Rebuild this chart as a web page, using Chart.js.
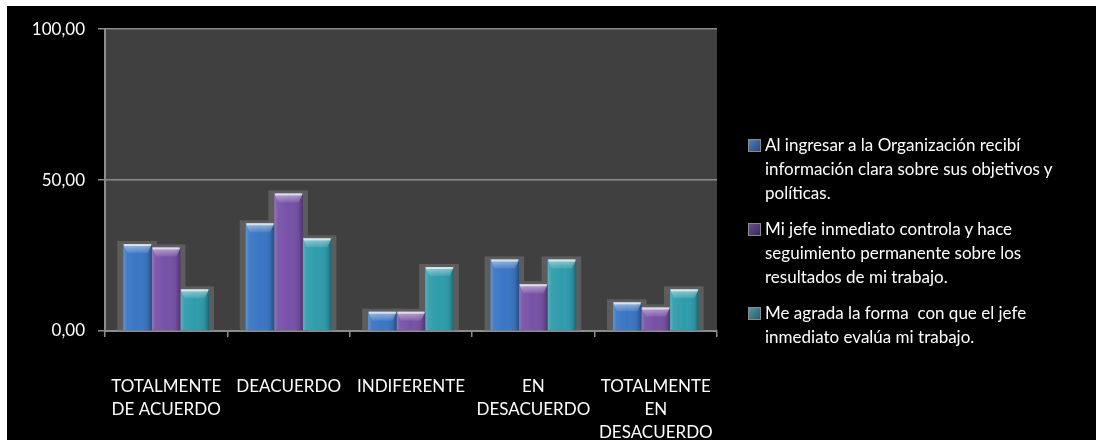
<!DOCTYPE html>
<html>
<head>
<meta charset="utf-8">
<script src="https://cdn.jsdelivr.net/npm/chart.js@4.4.0/dist/chart.umd.min.js"></script>
<style>
    body { margin: 0; background: #fff; }
    #wrap { position: absolute; left: 7px; top: 6px; width: 1089px; height: 434px; background: #000; }
    #legend { position: absolute; left: 741px; top: 127px; font-family: Lato, sans-serif; font-size: 17px; color: #fff; }
    .item { display: flex; margin-bottom: 12px; }
    .box { width: 13px; height: 13px; margin-top: 6px; margin-right: 4px; flex: none; box-sizing: border-box; border: 1px solid #8a8a8a; }
    .text { line-height: 24px; white-space: pre; }
</style>
</head>
<body>
<div id="wrap">
    <canvas id="chart" width="1089" height="434"></canvas>
    <div id="legend"></div>
</div>
<script>
// categories and series
const categories = [
    ['TOTALMENTE', 'DE ACUERDO'],
    ['DEACUERDO'],
    ['INDIFERENTE'],
    ['EN', 'DESACUERDO'],
    ['TOTALMENTE', 'EN', 'DESACUERDO']
];
const seriesNames = [
    ['Al ingresar a la Organización recibí', 'información clara sobre sus objetivos y', 'políticas.'],
    ['Mi jefe inmediato controla y hace', 'seguimiento permanente sobre los', 'resultados de mi trabajo.'],
    ['Me agrada la forma  con que el jefe', 'inmediato evalúa mi trabajo.']
];
const organizacion = [28.8, 35.7, 6.4, 23.7, 9.5];
const seguimiento = [27.7, 45.6, 6.4, 15.5, 7.8];
const evaluacion = [13.8, 30.7, 21.2, 23.7, 13.8];
const yTicks = [0, 50, 100];

const barColors = ['#3a76c4', '#7751a7', '#2f9cab'];
const boxColors = [['#4f7fbf', '#27497a'], ['#6a4f94', '#3a2858'], ['#4d9aa6', '#235e68']];
const labelFont = { family: 'Lato, sans-serif', size: 17 };

// gray panel behind the bars
const plotBackground = {
    id: 'plotBackground',
    beforeDraw(chart) {
        const { ctx, chartArea: a } = chart;
        ctx.save();
        ctx.fillStyle = '#404040';
        ctx.fillRect(a.left, a.top, a.right - a.left, a.bottom - a.top);
        ctx.restore();
    }
};

// lighter halo rectangle behind each bar
const barShadow = {
    id: 'barShadow',
    beforeDatasetsDraw(chart) {
        const ctx = chart.ctx;
        ctx.save();
        ctx.fillStyle = '#5d5d5d';
        chart.data.datasets.forEach((ds, i) => {
            chart.getDatasetMeta(i).data.forEach(bar => {
                const p = bar.getProps(['x', 'y', 'base', 'width'], true);
                const left = p.x - p.width / 2;
                ctx.fillRect(left - 6, p.y - 3, p.width + 11, p.base - p.y + 3);
            });
        });
        ctx.restore();
    }
};

// glossy bevel on top of the bars
const barGloss = {
    id: 'barGloss',
    afterDatasetsDraw(chart) {
        const ctx = chart.ctx;
        ctx.save();
        chart.data.datasets.forEach((ds, i) => {
            chart.getDatasetMeta(i).data.forEach(bar => {
                const p = bar.getProps(['x', 'y', 'base', 'width'], true);
                const left = p.x - p.width / 2;
                const w = p.width;
                const h = p.base - p.y;

                var side = ctx.createLinearGradient(left, 0, left + w, 0);
                side.addColorStop(0, 'rgba(255,255,255,0.22)');
                side.addColorStop(0.12, 'rgba(255,255,255,0.06)');
                side.addColorStop(0.5, 'rgba(255,255,255,0)');
                side.addColorStop(0.85, 'rgba(0,0,0,0.08)');
                side.addColorStop(1, 'rgba(0,0,0,0.35)');
                ctx.fillStyle = side;
                ctx.fillRect(left, p.y, w, h);

                var capH = Math.min(9, h);
                var cap = ctx.createLinearGradient(0, p.y, 0, p.y + capH);
                cap.addColorStop(0, 'rgba(255,255,255,0.5)');
                cap.addColorStop(1, 'rgba(255,255,255,0.08)');
                ctx.fillStyle = cap;
                ctx.beginPath();
                ctx.moveTo(left, p.y);
                ctx.lineTo(left + w, p.y);
                ctx.lineTo(left + w - 4, p.y + capH);
                ctx.lineTo(left + 4, p.y + capH);
                ctx.closePath();
                ctx.fill();

                ctx.fillStyle = 'rgba(235,235,235,0.8)';
                ctx.fillRect(left + 1, p.y, w - 2, 2);
            });
        });
        ctx.restore();
    }
};

var ctx = document.getElementById('chart').getContext('2d');
var chart = new Chart(ctx, {
    type: 'bar',
    data: {
        labels: categories,
        datasets: [organizacion, seguimiento, evaluacion].map((values, i) => ({
            label: seriesNames[i].join(' '),
            data: values,
            backgroundColor: barColors[i],
            borderWidth: 0,
            categoryPercentage: 0.7,
            barPercentage: 1.0
        }))
    },
    options: {
        responsive: false,
        animation: false,
        devicePixelRatio: 1,
        layout: { padding: { left: 0, top: 23, right: 379, bottom: 0 } },
        plugins: {
            legend: { display: false },
            tooltip: { enabled: false }
        },
        scales: {
            x: {
                grid: { display: true, drawOnChartArea: false, offset: true, color: '#8c8c8c', lineWidth: 1.5, tickLength: 6 },
                border: { color: '#8c8c8c', width: 2 },
                ticks: { color: '#fff', font: { family: 'Lato, sans-serif', size: 17, lineHeight: 1.35 }, padding: 38, maxRotation: 0, autoSkip: false },
                afterFit: s => { s.height = 109; }
            },
            y: {
                min: 0,
                max: 100,
                afterBuildTicks: s => { s.ticks = yTicks.map(v => ({ value: v })); },
                grid: { color: '#8c8c8c', lineWidth: 1.5, tickLength: 7 },
                border: { color: '#8c8c8c', width: 2 },
                ticks: {
                    color: '#fff',
                    font: labelFont,
                    padding: 13,
                    callback: v => v.toFixed(2).replace('.', ',')
                },
                afterFit: s => { s.width = 98; }
            }
        }
    },
    plugins: [plotBackground, barShadow, barGloss]
});

// legend with wrapped series names
var legend = document.getElementById('legend');
seriesNames.forEach(function(lines, i) {
    var item = document.createElement('div');
    item.className = 'item';
    var box = document.createElement('div');
    box.className = 'box';
    box.style.background = 'linear-gradient(135deg, ' + boxColors[i][0] + ', ' + boxColors[i][1] + ')';
    var text = document.createElement('div');
    text.className = 'text';
    text.textContent = lines.join('\n');
    item.appendChild(box);
    item.appendChild(text);
    legend.appendChild(item);
});
</script>
</body>
</html>
